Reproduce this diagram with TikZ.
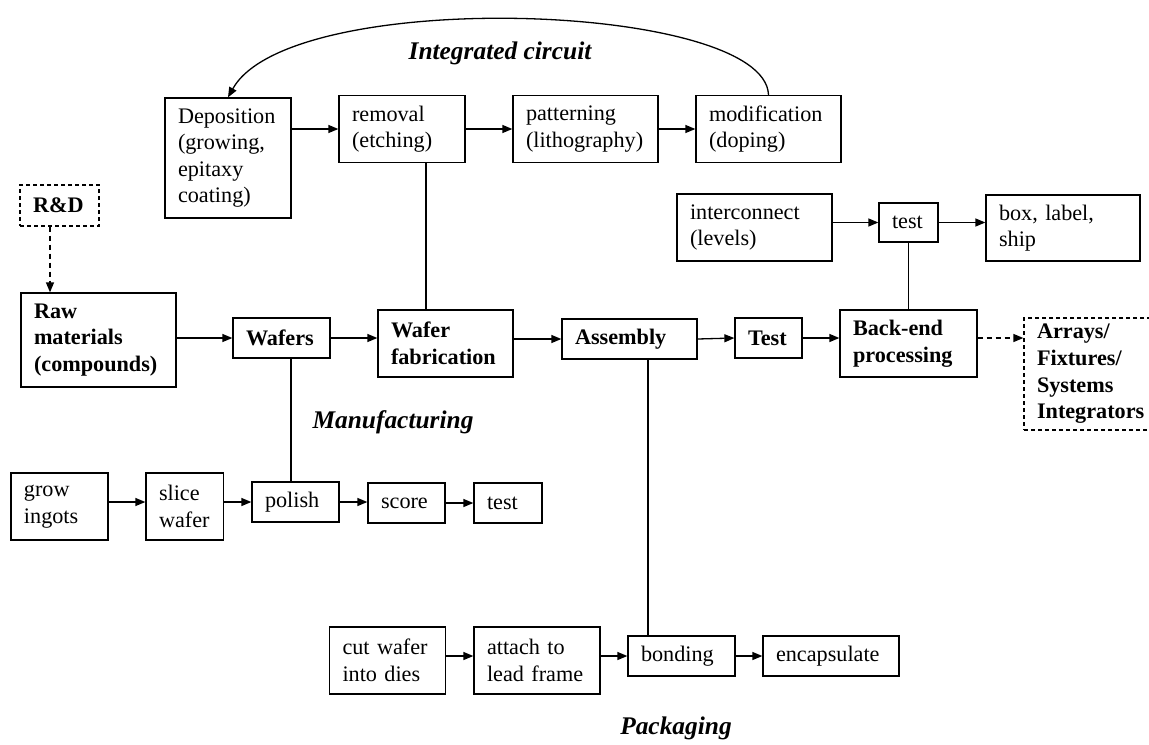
\documentclass[tikz,border=0pt]{standalone}
\usepackage{fontspec}
\setmainfont{Liberation Serif}
\usetikzlibrary{arrows.meta}

\tikzset{
  box/.style={draw, line width=0.65pt, inner xsep=6.5pt, inner ysep=1pt, align=left,
    font=\fontsize{11.1}{13.3}\selectfont},
  keybox/.style={box, font=\fontsize{11.1}{13.3}\selectfont\bfseries},
  dbox/.style={keybox, dash pattern=on 2pt off 1.5pt},
  wh/.style 2 args={text width=#1, minimum height=#2},
  arr/.style={line width=0.65pt, -{Triangle[length=5pt,width=4pt]}},
  darr/.style={arr, dash pattern=on 2.5pt off 2pt},
  stem/.style={line width=0.65pt},
  part/.style={font=\fontsize{12.7}{15}\selectfont\bfseries\itshape}
}

\begin{document}
\begin{tikzpicture}[x=0.5pt, y=-0.5pt]

    \useasboundingbox (0,0) rectangle (1149,744);

    % Integrated circuit steps
    \node[box, wh={50pt}{60pt}]     (dep) at (228,158)   {Deposition\\(growing,\\epitaxy\\coating)};
    \node[box, wh={50pt}{33.5pt}]   (rem) at (402,129)   {removal\\(etching)};
    \node[box, wh={59.5pt}{33.5pt}] (pat) at (585.5,129) {patterning\\(lithography)};
    \node[box, wh={59.5pt}{33.5pt}] (mod) at (768.5,129) {modification\\(doping)};
    \node[part] (ic) at (500,53) {Integrated circuit};

    \draw[arr] (dep.east |- rem) -- (rem.west);
    \draw[arr] (rem.east) -- (pat.west);
    \draw[arr] (pat.east) -- (mod.west);
    \draw[arr] (mod.north) .. controls (765,2) and (290,-14) .. (dep.north);

    % Back-end steps
    \node[box, wh={64.5pt}{33.5pt}] (inter) at (754.5,227.5) {interconnect\\(levels)};
    \node[box, wh={16.5pt}{19.5pt}] (btest) at (908.5,222.5) {test};
    \node[box, wh={64pt}{33pt}]     (ship)  at (1063,228)    {box, label,\\ship};

    \draw[arr] (inter.east |- btest) -- (btest.west);
    \draw[arr] (btest.east) -- (btest.east -| ship.west);

    % Main chain
    \node[dbox, wh={26.5pt}{20.5pt}]   (rnd)     at (59.5,205.5)  {R\&D};
    \node[keybox, wh={64.5pt}{47pt}]   (raw)     at (98.5,340)    {Raw\\materials\\(compounds)};
    \node[keybox, wh={35.5pt}{20pt}]   (wafers)  at (281.5,338)   {Wafers};
    \node[keybox, wh={54.5pt}{33.5pt}] (fab)     at (445.5,343.5) {Wafer\\fabrication};
    \node[keybox, wh={54.5pt}{20pt}]   (asm)     at (629.5,339)   {Assembly};
    \node[keybox, wh={20.5pt}{20pt}]   (test)    at (768.5,338)   {Test};
    \node[keybox, wh={55.5pt}{33.5pt}] (backend) at (908.5,343.5) {Back-end\\processing};
    \node[dbox, wh={59pt}{56pt}]       (arrays)  at (1096,374)    {Arrays/\\Fixtures/\\Systems\\Integrators};

    \draw[darr] ([xshift=-4.75pt]rnd.south) -- ([xshift=-4.75pt]rnd.south |- raw.north);
    \draw[arr] (raw.east |- wafers) -- (wafers.west);
    \draw[arr] (wafers.east) -- (wafers.east -| fab.west);
    \draw[arr] (fab.east |- asm) -- (asm.west);
    \draw[arr] (asm.east) -- (test.west);
    \draw[arr] (test.east) -- (test.east -| backend.west);
    \draw[darr] (backend.east |- test) -- (arrays.west |- test);

    \draw[stem] ([xshift=12pt]rem.south) -- ([xshift=12pt]rem.south |- fab.north);
    \draw[stem] (btest.south) -- (backend.north);

    % Manufacturing
    \node[box, wh={35.5pt}{33.5pt}]  (grow)   at (59.5,506.5)   {grow\\ingots};
    \node[box, wh={25.75pt}{33.5pt}] (slice)  at (184.75,506.5) {slice\\wafer};
    \node[box, wh={30.5pt}{20pt}]    (polish) at (295.5,502)    {polish};
    \node[box, wh={25.5pt}{20pt}]    (score)  at (406.5,503)    {score};
    \node[box, wh={21pt}{20pt}]      (wtest)  at (508,503)      {test};
    \node[part] (mfg) at (393,422) {Manufacturing};

    \draw[arr] (grow.east |- polish) -- (slice.west |- polish);
    \draw[arr] (slice.east |- polish) -- (polish.west);
    \draw[arr] (polish.east) -- (polish.east -| score.west);
    \draw[arr] (score.east) -- (wtest.west);
    \draw[stem] ([xshift=4.75pt]wafers.south) -- ([xshift=4.75pt]wafers.south |- polish.north);

    % Packaging
    \node[box, wh={45pt}{33.5pt}]  (cut)    at (387.5,660.5) {cut wafer\\into dies};
    \node[box, wh={50pt}{33.5pt}]  (attach) at (537,660.5)   {attach to\\lead frame};
    \node[box, wh={40.5pt}{20pt}]  (bond)   at (681.5,656)   {bonding};
    \node[box, wh={55pt}{20pt}]    (encap)  at (831,656)     {encapsulate};
    \node[part] (pkg) at (676,728) {Packaging};

    \draw[arr] (cut.east |- bond) -- (attach.west |- bond);
    \draw[arr] (attach.east |- bond) -- (bond.west);
    \draw[arr] (bond.east) -- (encap.west);
    \draw[stem] ([xshift=9.25pt]asm.south) -- ([xshift=9.25pt]asm.south |- bond.north);

\end{tikzpicture}
\end{document}
